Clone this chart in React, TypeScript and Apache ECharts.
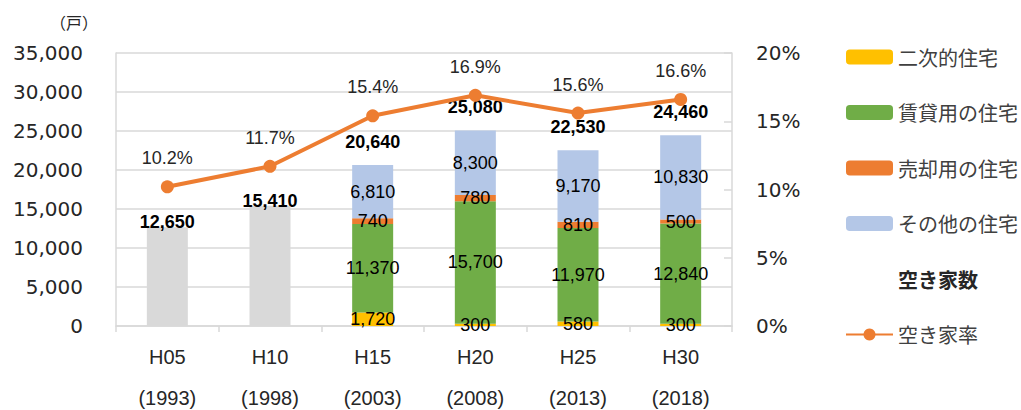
import React, { useEffect, useRef } from "react";
import * as echarts from "echarts";

const categories = ["H05", "H10", "H15", "H20", "H25", "H30"];
const years = ["(1993)", "(1998)", "(2003)", "(2008)", "(2013)", "(2018)"];
const secondHome = [null, null, 1720, 300, 580, 300];
const rental = [null, null, 11370, 15700, 11970, 12840];
const forSale = [null, null, 740, 780, 810, 500];
const otherHomes = [null, null, 6810, 8300, 9170, 10830];
const vacantTotal = [12650, 15410, 20640, 25080, 22530, 24460];
const vacancyRate = [10.2, 11.7, 15.4, 16.9, 15.6, 16.6];

const NARROW = "'Liberation Sans', Arial, sans-serif";
const VERD = "'DejaVu Sans', Verdana, sans-serif";
const JP = "'Noto Sans CJK JP', sans-serif";
const GRID = "#D9D9D9";

export default function App() {
  const ref = useRef<HTMLDivElement>(null);
  useEffect(() => {
    if (!ref.current) return;
    const chart = echarts.init(ref.current, null, { renderer: "svg" });
    const fmt = (v: number) => v.toLocaleString("en-US");
    const stackLabel = {
      show: true,
      position: "inside",
      fontFamily: NARROW,
      fontSize: 18,
      color: "#000",
      formatter: (p: any) => fmt(p.value),
    };
    const mkStack = (name: string, data: any[], color: string) => ({
      name,
      type: "bar",
      stack: "v",
      data,
      barWidth: 41,
      barGap: "-100%",
      itemStyle: { color },
      label: stackLabel,
    });
    chart.setOption({
      animation: false,
      grid: { left: 116, right: 289, top: 53, bottom: 84, outerBoundsMode: "none", containLabel: false },
      title: {
        text: "（戸）",
        left: 50,
        top: 14,
        padding: 0,
        textStyle: { fontSize: 16, fontWeight: "normal", fontFamily: JP, color: "#262626" },
      },
      legend: {
        orient: "vertical",
        left: 840,
        top: 42,
        itemWidth: 47,
        itemHeight: 15,
        itemGap: 35.5,
        textStyle: { fontFamily: JP, fontSize: 20, color: "#404040", lineHeight: 20 },
        data: [
          { name: "二次的住宅" },
          { name: "賃貸用の住宅" },
          { name: "売却用の住宅" },
          { name: "その他の住宅" },
          {
            name: "空き家数",
            icon: "rect",
            itemStyle: { opacity: 0 },
            textStyle: { fontWeight: "bold", color: "#262626" },
          },
          { name: "空き家率" },
        ],
      },
      xAxis: {
        type: "category",
        data: categories.map((c, i) => c + "\n" + years[i]),
        axisLine: { show: true, lineStyle: { color: GRID, width: 1.5 } },
        axisTick: { show: true, length: 6, lineStyle: { color: GRID, width: 1.5 } },
        axisLabel: {
          fontFamily: NARROW,
          fontSize: 20,
          lineHeight: 41,
          margin: 10,
          color: "#262626",
        },
      },
      yAxis: [
        {
          type: "value",
          min: 0,
          max: 35000,
          interval: 5000,
          axisLine: { show: true, lineStyle: { color: GRID, width: 1.5 } },
          axisTick: { show: false },
          splitLine: { show: true, lineStyle: { color: GRID, width: 1.5 } },
          axisLabel: {
            fontFamily: VERD,
            fontSize: 20,
            color: "#262626",
            margin: 33,
            formatter: (v: number) => fmt(v),
          },
        },
        {
          type: "value",
          min: 0,
          max: 20,
          interval: 5,
          position: "right",
          axisLine: { show: true, lineStyle: { color: GRID, width: 1.5 } },
          axisTick: { show: true, inside: true, length: 8, lineStyle: { color: GRID, width: 1.5 } },
          splitLine: { show: false },
          axisLabel: {
            fontFamily: VERD,
            fontSize: 20,
            color: "#262626",
            margin: 24,
            formatter: "{value}%",
          },
        },
      ],
      series: [
        mkStack("二次的住宅", secondHome, "#FFC000"),
        mkStack("賃貸用の住宅", rental, "#70AD47"),
        mkStack("売却用の住宅", forSale, "#ED7D31"),
        mkStack("その他の住宅", otherHomes, "#B4C7E7"),
        {
          name: "空き家数",
          type: "bar",
          barWidth: 41,
          barGap: "-100%",
          itemStyle: { color: "#D9D9D9" },
          data: vacantTotal.map((v, i) => ({
            value: v,
            itemStyle: { color: i < 2 ? "#D9D9D9" : "rgba(0,0,0,0)" },
            label: { distance: i < 2 ? -4 : 14 },
          })),
          label: {
            show: true,
            position: "top",
            fontFamily: NARROW,
            fontSize: 18,
            fontWeight: "bold",
            color: "#000",
            formatter: (p: any) => fmt(p.value),
          },
        },
        {
          name: "空き家率",
          type: "line",
          yAxisIndex: 1,
          data: vacancyRate,
          symbol: "circle",
          symbolSize: 13,
          z: 10,
          itemStyle: { color: "#ED7D31" },
          lineStyle: { color: "#ED7D31", width: 4 },
          label: {
            show: true,
            position: "top",
            distance: 13,
            fontFamily: NARROW,
            fontSize: 18,
            color: "#262626",
            formatter: (p: any) => p.value.toFixed(1) + "%",
          },
        },
      ],
    });
    return () => chart.dispose();
  }, []);
  return <div ref={ref} style={{ width: 1021, height: 410, position: "absolute", left: 0, top: 0 }} />;
}
